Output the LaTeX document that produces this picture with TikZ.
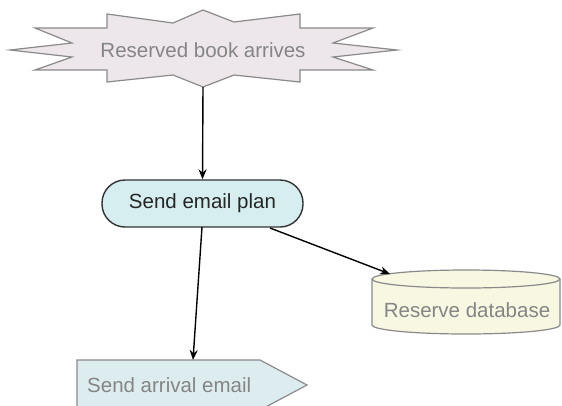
\documentclass[tikz,border=0pt]{standalone}
\usepackage{fontspec}
\setmainfont{Liberation Sans}
\usetikzlibrary{arrows.meta}
\definecolor{starfill}{HTML}{EDE7EB}
\definecolor{planfill}{HTML}{D6EEF0}
\definecolor{dbfill}{HTML}{F7F7E2}
\definecolor{arrfill}{HTML}{DDEDEF}
\definecolor{softgray}{HTML}{8A8A8A}
\definecolor{textgray}{HTML}{858585}
\tikzset{
  lbl/.style={font=\fontsize{20.5}{22}\selectfont, inner sep=0pt},
  graylbl/.style={lbl, text=textgray},
  outline/.style={draw=softgray, line width=1.2pt},
  conn/.style={draw=black, line width=1.4pt, -{Stealth[length=10pt,width=8pt]}},
}
\begin{document}
\begin{tikzpicture}[x=1pt,y=-1pt]
\useasboundingbox (0,0) rectangle (562,405);
% star
\path[outline, fill=starfill]
  (107,14) -- (173,23) -- (203,10) -- (234,22) -- (300,14) -- (300,28) -- (373,28)
  -- (333,43) -- (397,50) -- (333,57) -- (373,70) -- (300,70) -- (300,82)
  -- (234,75) -- (203,87) -- (173,75) -- (107,82) -- (107,70) -- (35,70)
  -- (72,57) -- (10,50) -- (72,43) -- (35,28) -- (107,28) -- cycle;
\node[graylbl] (star) at (203,50) {Reserved book arrives};
\coordinate (starbot) at (203,87);
% plan
\node[lbl, draw=black!80, line width=1.4pt, fill=planfill, rounded corners=23pt,
      minimum width=201pt, minimum height=47pt, text=black!85] (plan) at (202.5,203.5) {Send email plan};
\coordinate (planbot) at (202,227);
\coordinate (planse) at (270,228);
% database cylinder
\path[outline, fill=dbfill]
  (372,279) -- (372,325) arc[start angle=180, end angle=0, x radius=94, y radius=9]
  -- (560,279) arc[start angle=0, end angle=-180, x radius=94, y radius=9] -- cycle;
\path[outline] (372,279) arc[start angle=180, end angle=0, x radius=94, y radius=9];
\node[graylbl] (db) at (467,310) {Reserve database};
\coordinate (dbin) at (390,274);
% arrival email
\path[outline, fill=arrfill]
  (77,360) -- (260,360) -- (307,385) -- (260,410) -- (77,410) -- cycle;
\node[graylbl, anchor=west] (arr) at (87,385) {Send arrival email};
\coordinate (arrin) at (193,360);
% connectors
\draw[conn] (starbot) -- (plan.north);
\draw[conn] (planbot) -- (arrin);
\draw[conn] (planse) -- (dbin);
\end{tikzpicture}
\end{document}
